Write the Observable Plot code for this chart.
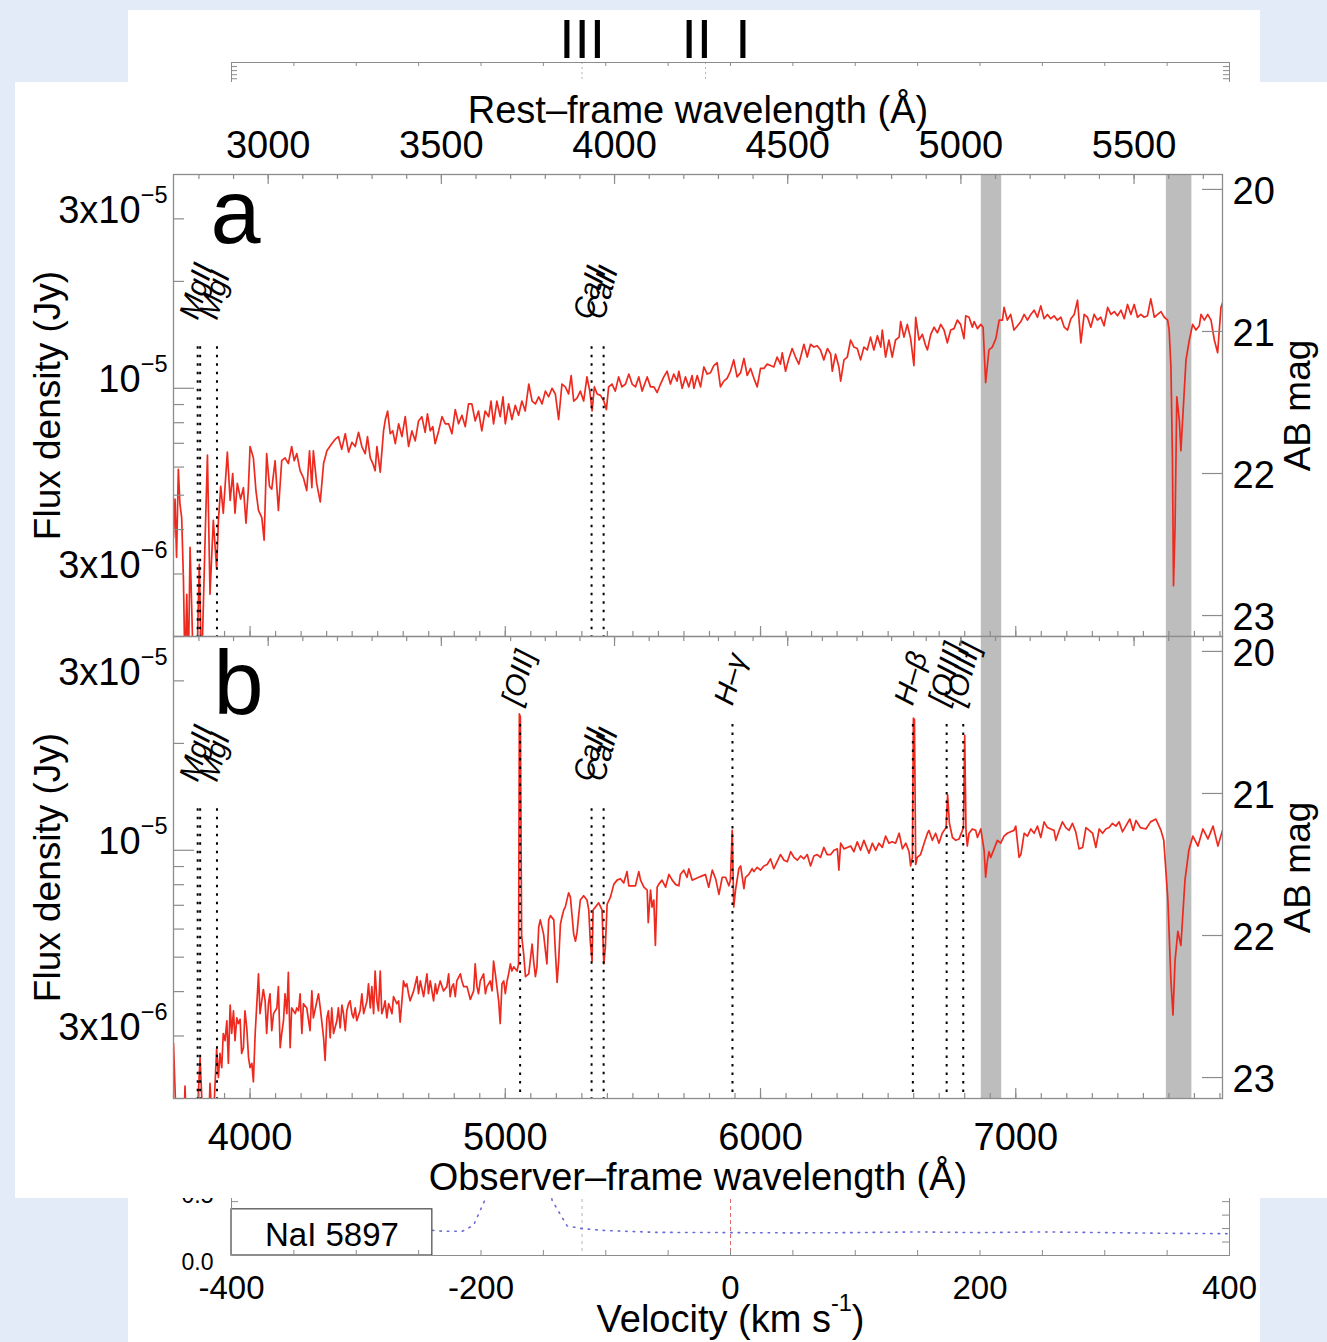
<!DOCTYPE html>
<html><head><meta charset="utf-8">
<script src="https://cdn.jsdelivr.net/npm/d3@7"></script>
<script src="https://cdn.jsdelivr.net/npm/@observablehq/plot@0.6"></script>
<style>
body{margin:0;background:#e3eaf8;}
#page{position:relative;width:1327px;height:1342px;overflow:hidden;background:#e3eaf8;}
.abs{position:absolute;}
svg{overflow:visible;}
</style></head><body>
<div id="page">
  <div class="abs" style="left:128px;top:10px;width:1132px;height:1332px;background:#fff"></div>
  <div id="backTop" class="abs" style="left:0;top:0;width:1327px"></div>
  <div id="backBottom" class="abs" style="left:0;top:1150px;width:1327px"></div>
  <div class="abs" style="left:15px;top:82px;width:1312px;height:1116px;background:#fff"></div>
  <div id="panelA" class="abs" style="left:0;top:0;width:1327px"></div>
  <div id="panelB" class="abs" style="left:0;top:636px;width:1327px"></div>
</div>
<script>
// ---------------- data ----------------
const z = 0.357;                       // redshift: rest = observed / (1+z)
const obsDomain = [3700, 7810];        // observer-frame wavelength (Å)
const fluxDomain = [2e-6, 4e-5];       // flux density (Jy)
const magZero = 3631;                  // AB zero point (Jy)

// spectrum (a): [observed wavelength Å, AB magnitude]
const spectrumA = [
[3700,22.45],[3706,22.18],[3712,22.59],[3719,21.97],[3725,22.21],[3732,22.31],[3739,22.75],[3745,23.4],[3752,22.85],[3758,23.4],[3765,22.52],[3771,22.92],[3778,23.4],[3791,23.4],[3801,22.64],[3810,23.4],[3824,22.45],[3833,21.87],[3843,22.85],[3856,22.33],[3869,22.67],[3876,22.33],[3885,22.09],[3895,22.28],[3911,21.85],[3922,22.19],[3932,22.00],[3941,22.28],[3950,22.07],[3963,22.18],[3974,22.10],[3984,22.35],[3993,22.12],[4000,21.81],[4013,21.89],[4023,22.12],[4033,22.26],[4046,22.31],[4055,22.47],[4065,21.86],[4076,22.09],[4085,22.11],[4098,21.91],[4111,22.26],[4124,21.91],[4137,21.89],[4150,21.93],[4163,21.81],[4173,21.91],[4183,21.86],[4196,21.98],[4209,22.03],[4222,22.12],[4233,21.84],[4242,22.10],[4248,21.84],[4261,22.07],[4275,22.20],[4288,21.93],[4301,21.84],[4320,21.79],[4333,21.76],[4346,21.74],[4359,21.83],[4373,21.72],[4386,21.85],[4399,21.78],[4412,21.81],[4425,21.71],[4438,21.81],[4451,21.86],[4460,21.74],[4471,21.89],[4481,21.93],[4490,21.98],[4497,21.81],[4510,21.99],[4523,21.70],[4530,21.62],[4539,21.56],[4549,21.72],[4559,21.70],[4569,21.79],[4582,21.65],[4595,21.74],[4608,21.60],[4621,21.81],[4634,21.70],[4647,21.77],[4660,21.63],[4673,21.60],[4686,21.71],[4695,21.58],[4706,21.70],[4716,21.67],[4725,21.79],[4739,21.70],[4752,21.60],[4765,21.65],[4778,21.65],[4791,21.72],[4804,21.55],[4817,21.65],[4830,21.59],[4843,21.67],[4856,21.51],[4869,21.51],[4882,21.63],[4895,21.56],[4908,21.70],[4921,21.56],[4935,21.60],[4944,21.49],[4954,21.65],[4967,21.49],[4980,21.60],[4991,21.46],[5000,21.65],[5013,21.51],[5026,21.62],[5039,21.52],[5052,21.59],[5065,21.49],[5078,21.56],[5092,21.37],[5105,21.49],[5118,21.51],[5131,21.46],[5144,21.51],[5157,21.42],[5170,21.46],[5183,21.40],[5196,21.44],[5209,21.62],[5222,21.37],[5235,21.39],[5248,21.44],[5258,21.31],[5268,21.49],[5281,21.47],[5294,21.42],[5307,21.49],[5320,21.32],[5331,21.42],[5340,21.56],[5349,21.39],[5360,21.44],[5373,21.45],[5386,21.49],[5396,21.55],[5405,21.39],[5418,21.37],[5431,21.42],[5444,21.32],[5457,21.39],[5471,21.37],[5484,21.30],[5497,21.37],[5510,21.39],[5523,21.32],[5536,21.42],[5556,21.32],[5569,21.39],
[5582,21.39],[5595,21.43],[5608,21.37],[5621,21.32],[5634,21.28],[5647,21.37],[5660,21.30],[5673,21.35],[5680,21.28],[5693,21.40],[5706,21.32],[5719,21.39],[5732,21.31],[5739,21.40],[5752,21.31],[5765,21.39],[5778,21.25],[5791,21.30],[5804,21.29],[5817,21.24],[5830,21.22],[5843,21.39],[5856,21.35],[5869,21.33],[5882,21.28],[5895,21.20],[5908,21.32],[5922,21.29],[5935,21.19],[5948,21.31],[5961,21.26],[5974,21.33],[5987,21.39],[6000,21.26],[6013,21.26],[6026,21.23],[6039,21.24],[6052,21.25],[6065,21.18],[6078,21.23],[6085,21.15],[6098,21.28],[6111,21.19],[6124,21.12],[6137,21.18],[6150,21.23],[6170,21.09],[6183,21.18],[6196,21.09],[6209,21.11],[6222,21.10],[6235,21.13],[6248,21.20],[6262,21.12],[6275,21.16],[6281,21.28],[6294,21.16],[6307,21.25],[6314,21.35],[6327,21.20],[6340,21.18],[6353,21.06],[6366,21.11],[6379,21.12],[6392,21.20],[6405,21.11],[6418,21.13],[6431,21.04],[6444,21.13],[6458,21.03],[6471,21.11],[6477,20.99],[6490,21.18],[6503,21.06],[6516,21.18],[6529,21.06],[6543,21.04],[6549,20.93],[6562,21.04],[6575,20.95],[6588,21.05],[6601,21.24],[6608,20.90],[6621,21.06],[6634,21.02],[6647,21.10],[6654,21.13],[6667,21.02],[6680,20.97],[6693,21.01],[6706,20.95],[6719,20.99],[6732,21.08],[6745,20.99],[6758,20.98],[6771,20.92],[6784,20.95],[6797,21.05],[6804,20.89],[6817,20.90],[6830,20.97],[6837,20.93],[6850,20.98],[6863,20.95],[6872,20.97],[6882,21.36],[6895,21.13],[6908,21.11],[6922,21.05],[6935,20.92],[6948,20.92],[6954,20.83],[6967,20.92],[6980,20.88],[6993,20.99],[7007,20.96],[7020,20.93],[7033,20.88],[7046,20.92],[7059,20.88],[7072,20.85],[7085,20.90],[7098,20.82],[7111,20.91],[7124,20.88],[7137,20.91],[7150,20.89],[7163,20.92],[7177,20.90],[7190,20.97],[7203,20.99],[7216,20.91],[7229,20.88],[7242,20.78],[7255,21.08],[7268,20.88],[7281,20.90],[7294,20.97],[7307,20.88],[7320,20.92],
[7333,20.90],[7346,20.96],[7360,20.83],[7373,20.88],[7386,20.86],[7399,20.89],[7412,20.85],[7425,20.91],[7438,20.81],[7451,20.88],[7464,20.81],[7477,20.90],[7490,20.88],[7503,20.90],[7516,20.89],[7529,20.77],[7543,20.90],[7556,20.88],[7569,20.86],[7582,20.90],[7595,20.92],[7601,20.99],[7608,21.25],[7614,21.91],[7618,22.79],[7624,22.38],[7631,21.46],[7641,21.63],[7647,21.84],[7667,21.20],[7680,21.06],[7693,20.95],[7706,20.99],[7719,20.96],[7726,20.88],[7739,20.92],[7752,20.88],[7765,20.92],[7778,21.06],[7791,21.15],[7804,20.83],[7810,20.80]
];

// spectrum (b): [observed wavelength Å, AB magnitude]
const spectrumB = [
[3700,22.76],[3712,23.4],[3740,23.4],[3745,23.06],[3752,23.4],[3790,23.4],[3804,22.86],[3817,23.4],[3837,23.4],[3843,23.04],[3854,23.4],[3869,22.80],[3876,23.00],[3882,22.83],[3889,22.93],[3895,22.69],[3902,22.74],[3909,22.60],[3915,22.90],[3922,22.49],[3928,22.69],[3935,22.53],[3941,22.74],[3948,22.58],[3954,22.62],[3961,22.59],[3967,22.83],[3974,22.79],[3980,22.53],[3987,22.65],[3994,22.86],[4000,22.93],[4007,22.90],[4013,23.03],[4020,22.69],[4033,22.27],[4039,22.55],[4052,22.38],[4059,22.46],[4065,22.69],[4072,22.48],[4078,22.41],[4085,22.67],[4092,22.55],[4105,22.51],[4111,22.36],[4118,22.79],[4124,22.69],[4131,22.60],[4137,22.41],[4144,22.55],[4150,22.26],[4157,22.79],[4163,22.51],[4177,22.55],[4183,22.51],[4190,22.53],[4196,22.41],[4203,22.69],[4209,22.48],[4222,22.51],[4235,22.67],[4242,22.39],[4248,22.58],[4262,22.46],[4268,22.41],[4275,22.51],[4288,22.72],[4294,22.88],[4301,22.58],[4307,22.53],[4314,22.72],[4320,22.51],[4327,22.69],[4340,22.60],[4346,22.51],[4353,22.65],[4360,22.49],[4366,22.55],[4373,22.67],[4379,22.53],[4386,22.48],[4392,22.46],[4399,22.55],[4405,22.58],[4412,22.51],[4418,22.60],[4431,22.53],[4438,22.41],[4445,22.55],[4458,22.46],[4464,22.34],[4471,22.51],[4477,22.36],[4484,22.55],[4490,22.25],[4497,22.46],[4503,22.53],[4510,22.25],[4516,22.55],[4523,22.51],[4529,22.46],[4536,22.58],[4543,22.48],[4549,22.51],[4556,22.55],[4562,22.43],[4575,22.48],[4582,22.46],[4588,22.61],[4595,22.46],[4601,22.32],[4608,22.36],[4614,22.34],[4621,22.41],[4627,22.46],[4641,22.39],[4654,22.29],[4660,22.41],[4667,22.32],[4680,22.43],[4693,22.27],[4699,22.41],[4706,22.32],[4719,22.46],[4726,22.34],[4732,22.41],[4745,22.32],[4758,22.39],[4771,22.36],[4778,22.27],[4784,22.43],[4791,22.36],[4797,22.34],[4804,22.43],[4810,22.32],[4824,22.27],[4830,22.32],[4837,22.36],[4850,22.36],[4863,22.45],[4876,22.39],[4882,22.20],[4889,22.36],[4895,22.41],[4902,22.32],[4915,22.27],[4922,22.41],[4928,22.36],[4941,22.32],[4948,22.39],[4954,22.18],[4961,22.27],[4967,22.36],[4974,22.46],[4980,22.62],[4987,22.34],[4994,22.32],[5000,22.41],[5007,22.32],[5013,22.27],[5020,22.20],[5026,22.25],[5033,22.22],[5046,22.25],[5052,22.20],[5055,20.44],[5059,20.46],[5064,22.00],[5072,22.13],[5079,22.29],[5092,22.27],[5105,22.06],[5111,22.18],[5118,22.29],[5124,22.22],[5131,21.94],[5137,21.89],[5150,21.99],[5163,22.20],[5170,21.89],[5177,21.86],[5190,21.89],[5196,22.11],[5203,22.33],[5209,22.18],[5216,21.92],[5222,21.87],[5229,21.82],[5235,21.80],[5248,21.70],[5255,21.73],[5262,21.87],[5268,21.99],[5275,22.04],[5281,21.98],[5288,21.85],[5294,21.75],[5307,21.72],[5320,21.75],[5327,21.82],[5333,22.04],[5340,22.18],[5344,21.82],[5353,21.80],[5366,21.77],[5379,21.82],[5386,22.20],[5392,22.08],[5399,21.78],[5412,21.73],[5425,21.64],[5438,21.61],[5451,21.60],[5464,21.63],[5477,21.55],[5484,21.65],
[5497,21.65],[5510,21.65],[5523,21.55],[5530,21.61],[5543,21.66],[5556,21.68],[5560,21.91],[5569,21.68],[5575,21.80],[5582,21.75],[5588,22.07],[5595,21.66],[5601,21.64],[5614,21.61],[5628,21.66],[5641,21.57],[5654,21.61],[5667,21.64],[5680,21.65],[5686,21.57],[5699,21.54],[5712,21.59],[5719,21.53],[5732,21.61],[5745,21.60],[5758,21.59],[5771,21.58],[5784,21.57],[5797,21.66],[5811,21.54],[5824,21.60],[5837,21.71],[5850,21.59],[5863,21.59],[5876,21.65],[5882,21.61],[5889,21.26],[5895,21.80],[5902,21.68],[5915,21.53],[5922,21.51],[5935,21.67],[5941,21.59],[5954,21.57],[5967,21.53],[5974,21.55],[5987,21.52],[6000,21.54],[6013,21.51],[6026,21.50],[6039,21.46],[6052,21.53],[6065,21.48],[6078,21.43],[6092,21.47],[6105,21.48],[6118,21.41],[6131,21.45],[6144,21.47],[6157,21.44],[6170,21.46],[6183,21.43],[6196,21.51],[6209,21.44],[6222,21.43],[6235,21.45],[6248,21.38],[6261,21.43],[6275,21.43],[6288,21.40],[6301,21.39],[6307,21.54],[6314,21.35],[6327,21.39],[6340,21.38],[6353,21.37],[6366,21.41],[6379,21.34],[6392,21.40],[6405,21.33],[6418,21.39],[6425,21.42],[6438,21.35],[6451,21.40],[6464,21.35],[6477,21.38],[6490,21.30],[6503,21.35],[6516,21.34],[6529,21.35],[6543,21.28],[6556,21.39],[6569,21.35],[6582,21.41],[6588,21.51],[6595,21.45],[6599,20.47],[6603,20.48],[6608,21.50],[6614,21.45],[6627,21.43],[6641,21.35],[6654,21.28],[6660,21.26],[6673,21.33],[6686,21.28],[6699,21.35],[6712,21.28],[6719,21.26],[6727,21.24],[6733,21.01],[6740,21.21],[6752,21.31],[6765,21.33],[6778,21.32],[6791,21.26],[6795,21.24],[6800,20.59],[6805,21.26],[6810,21.37],[6817,21.28],[6830,21.25],[6843,21.26],[6850,21.31],[6863,21.25],[6876,21.40],[6882,21.59],[6889,21.47],[6895,21.41],[6902,21.45],[6915,21.39],[6928,21.33],[6941,21.35],[6954,21.30],[6967,21.28],[6980,21.27],[6993,21.26],[7000,21.23],[7013,21.45],[7020,21.43],[7033,21.28],[7046,21.30],[7059,21.25],[7072,21.28],[7085,21.23],[7098,21.31],[7111,21.20],[7124,21.24],[7137,21.25],[7150,21.26],[7157,21.33],[7170,21.26],[7183,21.20],[7196,21.24],[7209,21.26],[7222,21.21],[7235,21.27],[7248,21.39],[7262,21.38],[7275,21.24],[7288,21.26],[7301,21.28],[7314,21.38],[7327,21.25],[7340,21.28],[7353,21.25],[7366,21.24],[7379,21.21],[7392,21.23],[7405,21.20],
[7418,21.27],[7431,21.23],[7447,21.18],[7460,21.26],[7471,21.19],[7488,21.24],[7510,21.25],[7528,21.20],[7549,21.18],[7569,21.26],[7580,21.33],[7596,21.75],[7608,22.32],[7616,22.56],[7624,22.18],[7635,21.97],[7647,22.07],[7663,21.61],[7678,21.40],[7694,21.30],[7714,21.37],[7733,21.25],[7753,21.32],[7773,21.23],[7792,21.37],[7810,21.26]
];

const restTickLabels = [3000, 3500, 4000, 4500, 5000, 5500];
const obsTickLabels = [4000, 5000, 6000, 7000];
const fluxTickValues = [3e-5, 1e-5, 3e-6];
const fluxTickText = ["3x10^−5", "10^−5", "3x10^−6"];
const magTickValues = [20, 21, 22, 23];
const telluricBands = [[6865, 6945], [7590, 7690]];

const absLineNames = ["MgII", "MgI", "CaII", "CaII"];
const absLineRest = [2796.4, 2852.1, 3933.7, 3968.5];
const mgIIPartnerRest = [2803.5];
const emLineNames = ["[OII]", "H–γ", "H–β", "[OIII]", "[OIII]"];
const emLineRest = [3727.4, 4340.5, 4861.3, 4958.9, 5006.8];
const absLabelFlux = 1.55e-5, absLineTop = 1.31e-5;
const emLabelFlux = 2.54e-5, emLineTop = 2.26e-5;

// background (partially hidden) velocity figure
const velDomain = [-400, 400];
const velTickLabels = [-400, -200, 0, 200, 400];
const componentVelocity = [-119, -27, 10];
const componentLabels = ["III", "II", "I"];
const markerVelocity = [-119, -20];
const profileVelocity = [-239,-230,-215,-206,-197,-190,-150,-143,-131,-119,-100,-60,0,50,100,150,200,250,300,350,400];
const profileFlux = [0.187,0.18,0.18,0.224,0.41,0.8,0.8,0.41,0.22,0.2,0.185,0.172,0.17,0.168,0.17,0.175,0.17,0.175,0.17,0.165,0.162];

// ---------------- rendering ----------------
const toFlux = m => magZero * Math.pow(10, -0.4 * m);
const W = 1327, ML = 173, MR = 105, PW = W - ML - MR, PH = 462;
const grey = "#8c8c8c";
const baseStyle = {background: "transparent", fontFamily: '"Liberation Sans", Arial, Helvetica, sans-serif',
  fontSize: "38px", color: "#000", overflow: "visible", maxWidth: "none"};

const restMinor = d3.range(2800, 5701, 100);
const obsMinor = d3.range(3700, 7801, 100);
const fluxMinor = [2e-6,3e-6,4e-6,5e-6,6e-6,7e-6,8e-6,9e-6,2e-5,3e-5];

function supify(svg) {
  const ns = "http://www.w3.org/2000/svg";
  svg.querySelectorAll("text").forEach(t => {
    if (t.children.length === 0 && t.textContent.includes("^")) {
      const parts = t.textContent.split("^");
      t.textContent = "";
      const a = document.createElementNS(ns, "tspan"); a.textContent = parts[0]; t.appendChild(a);
      const b = document.createElementNS(ns, "tspan"); b.textContent = parts[1];
      b.setAttribute("font-size", "0.62em"); b.setAttribute("dy", "-0.85em"); t.appendChild(b);
      if (parts[2]) { const c = document.createElementNS(ns, "tspan"); c.textContent = parts[2]; c.setAttribute("dy", "0.527em"); t.appendChild(c); }
    }
  });
}

const lineLabelStyle = {rotate: -74, textAnchor: "start", lineAnchor: "bottom", fontSize: 29, fontStyle: "italic"};

function spectrumPanel(cfg) {
  const spec = cfg.spectrum.map(([w, m]) => ({w, f: toFlux(m)}));
  const marks = [
    Plot.rect(telluricBands, {x1: d => d[0], x2: d => d[1], fill: "#bdbdbd"}),
    Plot.line(spec, {x: "w", y: "f", stroke: "#ee2a1f", strokeWidth: 1.7, clip: true}),
    Plot.ruleX(absLineRest.concat(mgIIPartnerRest), {x: d => d * (1 + z), y1: absLineTop, y2: fluxDomain[0], stroke: "#000", strokeWidth: 2, strokeDasharray: "2.5 6"}),
    Plot.text(absLineNames, {x: (d, i) => absLineRest[i] * (1 + z), y: absLabelFlux, text: d => d, ...lineLabelStyle})
  ];
  if (cfg.emission) {
    marks.push(
      Plot.ruleX(emLineRest, {x: d => d * (1 + z), y1: emLineTop, y2: fluxDomain[0], stroke: "#000", strokeWidth: 2, strokeDasharray: "2.5 6"}),
      Plot.text(emLineNames, {x: (d, i) => emLineRest[i] * (1 + z), y: emLabelFlux, text: d => d, ...lineLabelStyle})
    );
  }
  marks.push(
    Plot.ruleX(obsMinor, {x: d => d, insetTop: PH - 5, stroke: grey, strokeWidth: 1.2}),
    Plot.ruleX(obsTickLabels, {x: d => d, insetTop: PH - 10, stroke: grey, strokeWidth: 1.2}),
    Plot.ruleX(restMinor, {x: d => d * (1 + z), insetBottom: PH - 5, stroke: grey, strokeWidth: 1.2}),
    Plot.ruleX(restTickLabels, {x: d => d * (1 + z), insetBottom: PH - 10, stroke: grey, strokeWidth: 1.2}),
    Plot.ruleY(fluxMinor, {y: d => d, insetRight: PW - 11, stroke: grey, strokeWidth: 1.2}),
    Plot.ruleY([1e-5], {y: d => d, insetRight: PW - 21, stroke: grey, strokeWidth: 1.2}),
    Plot.ruleY(magTickValues, {y: m => toFlux(m), insetLeft: PW - 20, stroke: grey, strokeWidth: 1.2}),
    Plot.frame({stroke: grey, strokeWidth: 1.3}),
    Plot.axisY(fluxTickValues, {anchor: "left", tickSize: 0, tickPadding: 6, dy: -8, label: null,
      tickFormat: d => fluxTickText[fluxTickValues.indexOf(d)]}),
    Plot.axisY(magTickValues.map(toFlux), {anchor: "right", tickSize: 0, tickPadding: 10, dy: 2, label: null,
      tickFormat: d => String(Math.round(-2.5 * Math.log10(d / magZero)))}),
    Plot.text(["Flux density (Jy)"], {text: d => d, frameAnchor: "left", dx: -125, rotate: -90, textAnchor: "middle", lineAnchor: "middle", fontSize: 37}),
    Plot.text(["AB mag"], {text: d => d, frameAnchor: "right", dx: 76, rotate: -90, textAnchor: "middle", lineAnchor: "middle", fontSize: 37}),
    Plot.text([cfg.letter], {text: d => d, frameAnchor: "top-left", dx: cfg.letterDx, dy: cfg.letterDy, textAnchor: "start", lineAnchor: "bottom", fontSize: 90})
  );
  if (cfg.top) {
    marks.push(
      Plot.axisX(restTickLabels.map(r => r * (1 + z)), {anchor: "top", tickSize: 0, tickPadding: 17, label: null,
        tickFormat: d => String(Math.round(d / (1 + z)))}),
      Plot.text(["Rest–frame wavelength (Å)"], {text: d => d, frameAnchor: "top", dy: -52, lineAnchor: "bottom", fontSize: 38})
    );
  }
  if (cfg.bottom) {
    marks.push(
      Plot.axisX(obsTickLabels, {anchor: "bottom", tickSize: 0, tickPadding: 25, label: null, tickFormat: d => String(d)}),
      Plot.text(["Observer–frame wavelength (Å)"], {text: d => d, frameAnchor: "bottom", dy: 91, lineAnchor: "bottom", fontSize: 38})
    );
  }
  const svg = Plot.plot({
    width: W, height: cfg.marginTop + PH + cfg.marginBottom,
    marginLeft: ML, marginRight: MR, marginTop: cfg.marginTop, marginBottom: cfg.marginBottom,
    x: {type: "linear", domain: obsDomain},
    y: {type: "log", domain: fluxDomain},
    style: baseStyle,
    marks
  });
  supify(svg);
  return svg;
}

// background figure, top strip
const backTop = Plot.plot({
  width: W, height: 120, marginLeft: 231, marginRight: 98, marginTop: 62, marginBottom: 0,
  x: {domain: velDomain, axis: null}, y: {domain: [0, 1], axis: null},
  style: baseStyle,
  marks: [
    Plot.ruleX(markerVelocity, {x: d => d, stroke: "#b5b5b5", strokeDasharray: "2 3"}),
    Plot.ruleX(d3.range(-400, 401, 50), {x: d => d, insetBottom: 58 - 4, stroke: grey}),
    Plot.ruleY([0.72, 0.79, 0.86, 0.93], {y: d => d, insetRight: 998 - 6, stroke: grey}),
    Plot.ruleY([0.72, 0.79, 0.86, 0.93], {y: d => d, insetLeft: 998 - 6, stroke: grey}),
    Plot.frame({stroke: grey}),
    Plot.text(componentLabels, {x: (d, i) => componentVelocity[i], text: d => d, frameAnchor: "top", dy: -5, lineAnchor: "bottom", fontSize: 55})
  ]
});
document.getElementById("backTop").appendChild(backTop);

// background figure, bottom velocity panel
const backBottom = Plot.plot({
  width: W, height: 192, marginLeft: 231, marginRight: 98, marginTop: 0, marginBottom: 87,
  x: {domain: velDomain}, y: {domain: [0, 0.78]},
  style: baseStyle,
  marks: [
    Plot.ruleX([markerVelocity[0]], {x: d => d, stroke: "#b5b5b5", strokeDasharray: "3 4"}),
    Plot.ruleX([0], {x: d => d, stroke: "#e06a6a", strokeDasharray: "4 3"}),
    Plot.line(profileVelocity.map((v, i) => ({v, f: profileFlux[i]})), {x: "v", y: "f", stroke: "#6a6ad8", strokeWidth: 1.6, strokeDasharray: "1.5 6", clip: true}),
    Plot.rect([0], {x1: -400, x2: -239, y1: 0, y2: 0.343, fill: "#fff", stroke: "#444", strokeWidth: 1.2}),
    Plot.text(["NaI 5897"], {text: d => d, x: -319.5, y: 0.074, lineAnchor: "bottom", fontSize: 33}),
    Plot.ruleX(d3.range(-400, 401, 50), {x: d => d, insetTop: 105 - 5, stroke: grey}),
    Plot.ruleY([0.1, 0.2, 0.3, 0.4], {y: d => d, insetLeft: 998 - 7, stroke: grey}),
    Plot.ruleY([0.4], {y: d => d, insetRight: 998 - 7, stroke: grey}),
    Plot.frame({stroke: grey}),
    Plot.axisX(velTickLabels, {anchor: "bottom", tickSize: 0, tickPadding: 20, label: null, fontSize: 33, tickFormat: d => String(d)}),
    Plot.axisY([0, 0.5], {anchor: "left", tickSize: 0, tickPadding: 18, dy: 7, label: null, fontSize: 23, tickFormat: d => d.toFixed(1)}),
    Plot.text(["Velocity (km s^-1^)"], {text: d => d, frameAnchor: "bottom", dy: 76, lineAnchor: "bottom", fontSize: 38})
  ]
});
supify(backBottom);
document.getElementById("backBottom").appendChild(backBottom);

document.getElementById("panelA").appendChild(spectrumPanel({
  spectrum: spectrumA, marginTop: 174, marginBottom: 0, top: true, bottom: false,
  letter: "a", letterDx: 37, letterDy: 68, emission: false
}));
document.getElementById("panelB").appendChild(spectrumPanel({
  spectrum: spectrumB, marginTop: 0, marginBottom: 103, top: false, bottom: true,
  letter: "b", letterDx: 40, letterDy: 77, emission: true
}));
</script>
</body></html>
